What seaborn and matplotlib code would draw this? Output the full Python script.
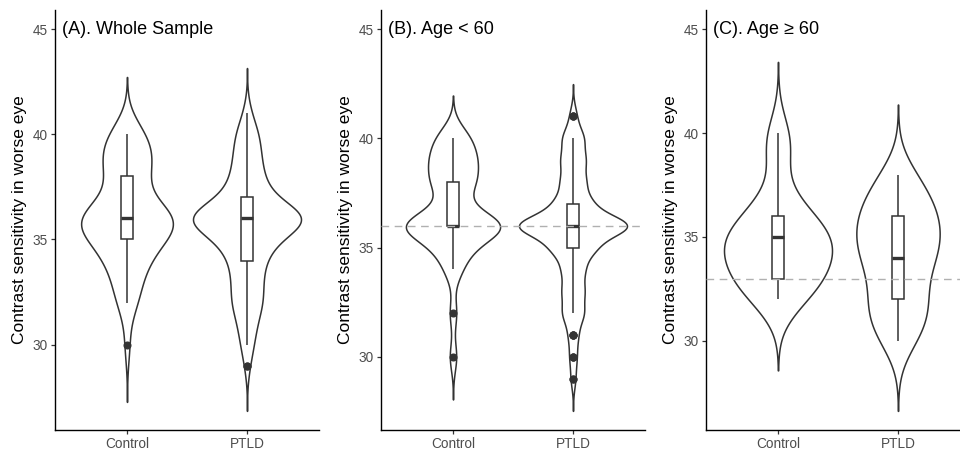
import numpy as np
import pandas as pd
import matplotlib
matplotlib.use("Agg")
import matplotlib.pyplot as plt
import seaborn as sns

# ---------------- data (contrast-sensitivity scores, counts per score) ----------------
levels = [29, 30, 31, 32, 33, 34, 35, 36, 37, 38, 39, 40, 41]
young_control = [0, 1, 0, 1, 0, 2, 4, 13, 2, 5, 5, 4, 0]
young_ptld    = [2, 3, 4, 9, 9, 9, 18, 48, 15, 10, 10, 9, 3]
old_control   = [0, 0, 0, 2, 3, 3, 4, 2, 1, 0, 1, 1, 0]
old_ptld      = [0, 2, 3, 3, 2, 4, 4, 4, 3, 2, 0, 0, 0]

groups = ["Control", "PTLD"]
panel_titles = ["(A). Whole Sample", "(B). Age < 60", "(C). Age \u2265 60"]
reference_lines = [None, 36, 33]
y_ticks = [30, 35, 40, 45]
y_label = "Contrast sensitivity in worse eye"


def frame(control_counts, ptld_counts):
    parts = []
    for g, counts in zip(groups, [control_counts, ptld_counts]):
        vals = np.repeat(levels, counts)
        parts.append(pd.DataFrame({"group": g, "cs": vals.astype(float)}))
    return pd.concat(parts, ignore_index=True)


df_young = frame(young_control, young_ptld)
df_old = frame(old_control, old_ptld)
df_all = pd.concat([df_young, df_old], ignore_index=True)
panels = [df_all, df_young, df_old]


def nrd0(kde):
    # R's default bandwidth (bw.nrd0), returned as a scipy factor
    x = kde.dataset[0]
    n = x.size
    sd = x.std(ddof=1)
    q75, q25 = np.percentile(x, [75, 25])
    lo = min(sd, (q75 - q25) / 1.34)
    return 0.9 * lo * n ** -0.2 / sd


# ---------------- style ----------------
sns.set_style("ticks")
plt.rcParams["font.family"] = ["Liberation Sans", "DejaVu Sans"]

ink = "#333333"
W, H = 960, 451
fig = plt.figure(figsize=(W / 100, H / 100), dpi=100)

lefts = [55, 381, 706]
panel_w = 264
top_px, bottom_px = 10, 430

for i, (df, title, ref) in enumerate(zip(panels, panel_titles, reference_lines)):
    ax = fig.add_axes([lefts[i] / W, (H - bottom_px) / H, panel_w / W, (bottom_px - top_px) / H])
    sns.violinplot(data=df, x="group", y="cs", order=groups, color="white",
                   linecolor=ink, linewidth=1.1, inner=None, cut=3, width=0.9,
                   gridsize=400, bw_method=nrd0, density_norm="area",
                   saturation=1, ax=ax, zorder=1)
    lo = ax.dataLim.y0
    sns.boxplot(data=df, x="group", y="cs", order=groups, width=0.1, color="white",
                linecolor=ink, linewidth=1.1, fliersize=4.8, showcaps=False,
                saturation=1,
                medianprops=dict(linewidth=2.4, color=ink),
                flierprops=dict(marker="o", markerfacecolor=ink, markeredgecolor=ink),
                ax=ax, zorder=2)
    if ref is not None:
        ax.axhline(ref, color="#B0B0B0", linewidth=1.0, linestyle=(0, (5.5, 4)), zorder=3)

    hi = 45.0
    span = hi - lo
    ax.set_ylim(lo - 0.05 * span, hi + 0.05 * span)
    ax.set_xlim(-0.6, 1.6)
    ax.set_yticks(y_ticks)
    ax.set_xlabel("")
    ax.set_ylabel(y_label, fontsize=12.5, color="black", labelpad=4)
    ax.text(-0.545, 45, title, ha="left", va="center", fontsize=13, color="black")

    for s in ["top", "right"]:
        ax.spines[s].set_visible(False)
    for s in ["left", "bottom"]:
        ax.spines[s].set_color("black")
        ax.spines[s].set_linewidth(1.0)
    ax.tick_params(axis="both", length=2.75, width=0.9, color=ink, pad=2.5,
                   labelsize=9.8, labelcolor="#4D4D4D")
    ax.set_facecolor("white")

fig.savefig("out.png", dpi=100, facecolor="white")
